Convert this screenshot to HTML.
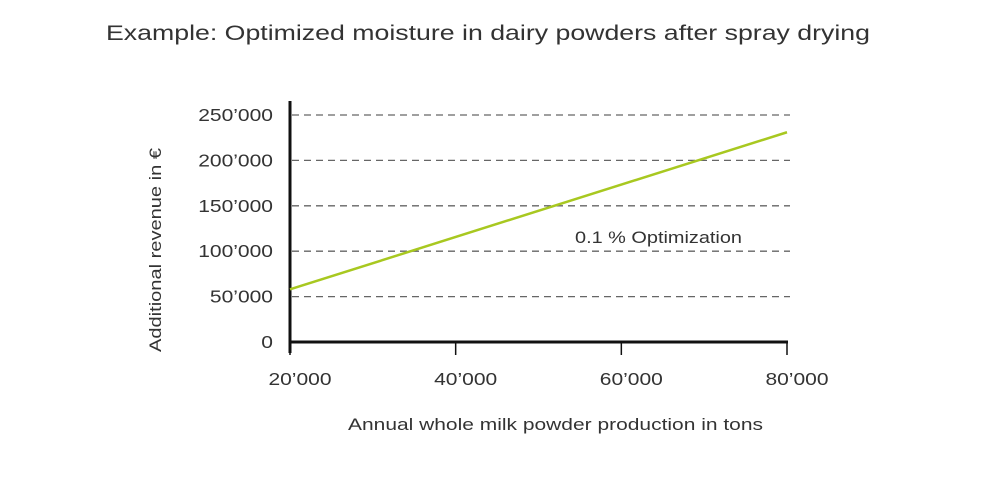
<!DOCTYPE html>
<html><head><meta charset="utf-8"><style>
body{margin:0;background:#fff;}
svg text{font-family:"Liberation Sans",Arial,sans-serif;fill:#333;}
</style></head><body>
<svg id="chart" width="1000" height="489" viewBox="0 0 1000 489">
<text x="106" y="40" font-size="21" textLength="764" lengthAdjust="spacingAndGlyphs">Example: Optimized moisture in dairy powders after spray drying</text>
<g id="grid"></g><g id="axes"></g><g id="series"></g>
<text x="575" y="243" font-size="17" textLength="167" lengthAdjust="spacingAndGlyphs">0.1 % Optimization</text>
<text x="348" y="430" font-size="17" textLength="415" lengthAdjust="spacingAndGlyphs">Annual whole milk powder production in tons</text>
<text transform="translate(161,352) rotate(-90)" font-size="17" textLength="204" lengthAdjust="spacingAndGlyphs">Additional revenue in €</text>
</svg>
<script>
const xTicks=[20000,40000,60000,80000];
const xTickLabels=["20’000","40’000","60’000","80’000"];
const yTicks=[0,50000,100000,150000,200000,250000];
const yTickLabels=["0","50’000","100’000","150’000","200’000","250’000"];
const seriesX=[20000,80000];
const seriesY=[58000,231000];
const NS="http://www.w3.org/2000/svg";
const sx=v=>290+(v-20000)/60000*497;
const sy=v=>342-v/250000*227;
function mk(t,a,p){const e=document.createElementNS(NS,t);for(const k in a)e.setAttribute(k,a[k]);p.appendChild(e);return e;}
function widen(t,f){const w=t.getComputedTextLength();t.setAttribute('textLength',w*f);t.setAttribute('lengthAdjust','spacingAndGlyphs');}
const grid=document.getElementById('grid'),axes=document.getElementById('axes'),ser=document.getElementById('series');
yTicks.forEach((v,i)=>{
 if(v>0){const l=mk('line',{x1:292,x2:790,y1:sy(v),y2:sy(v),stroke:'#666','stroke-width':1.3,'stroke-dasharray':'7,5'},grid);
 
 }
 const t=mk('text',{x:273,y:sy(v)+6,'font-size':17.5,'text-anchor':'end'},axes);t.textContent=yTickLabels[i];
 
 
 widen(t,1.2);
});
xTicks.forEach((v,i)=>{
 const l=mk('line',{x1:sx(v),x2:sx(v),y1:342,y2:355,stroke:'#111','stroke-width':1.5},axes);
 
 
 const t=mk('text',{x:sx(v)+10,y:385,'font-size':17.5,'text-anchor':'middle'},axes);t.textContent=xTickLabels[i];
 
 
 widen(t,1.2);
});
const ya=mk('line',{x1:290,x2:290,y1:101,y2:353,stroke:'#111','stroke-width':3},axes);


const xa=mk('line',{x1:289,x2:788,y1:342,y2:342,stroke:'#111','stroke-width':3},axes);


const pl=mk('polyline',{points:seriesX.map((x,i)=>sx(x)+','+sy(seriesY[i])).join(' '),fill:'none',stroke:'#a8c820','stroke-width':2.5},ser);


</script>
</body></html>
